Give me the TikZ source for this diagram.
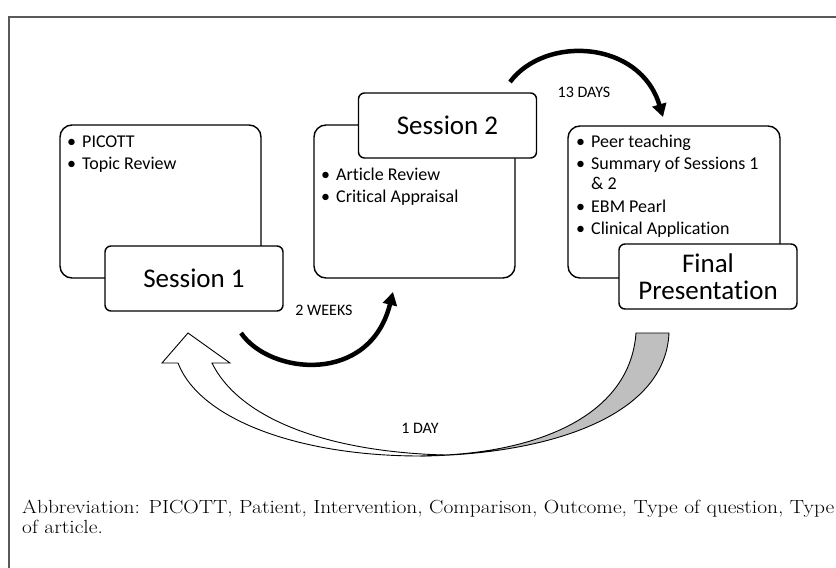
\documentclass[tikz,border=0pt]{standalone}
\usepackage{fontspec}
\setmainfont{Carlito}[Ligatures=NoCommon]
\newfontfamily\capfont{Latin Modern Roman}
\usetikzlibrary{arrows.meta}
\newcommand{\itm}[1]{\makebox[15pt][l]{\textbullet}#1}
\newcommand{\wide}[1]{\scalebox{1.128}[1]{#1}}

\begin{document}
\begin{tikzpicture}[
  x=1pt, y=-1pt,
  >={Triangle[length=13pt,width=14pt]},
  every node/.style={inner sep=0pt},
  content/.style={draw, line width=1.4pt, rounded corners=12pt},
  title/.style={draw, line width=1.4pt, rounded corners=6pt, fill=white, align=center,
    font=\fontsize{27}{27}\selectfont, minimum width=178pt, minimum height=65pt},
  item/.style={anchor=base west, font=\fontsize{18}{20}\selectfont},
  gap/.style={anchor=base, font=\fontsize{16}{18}\selectfont},
  timeline/.style={->, line width=4.5pt},
  ribbon/.style={draw, line width=0.9pt},
]
  \useasboundingbox (0,0) rectangle (836,568);

  % Frame
  \draw[line width=1.8pt, black!65] (9,568) -- (9,17) -- (836,17);

  % Content boxes
  \node[content, minimum width=201pt, minimum height=153pt] (c1) at (160.5,201.5) {};
  \node[content, minimum width=201pt, minimum height=153pt] (c2) at (414.5,201.5) {};
  \node[content, minimum width=212pt, minimum height=152pt] (c3) at (674,202) {};

  % Bullet items
  \node[item] (i11) at (67,147) {\itm{PICOTT}};
  \node[item] (i12) at (67,169) {\itm{Topic Review}};
  \node[item] (i21) at (321,180) {\itm{Article Review}};
  \node[item] (i22) at (321,202) {\itm{Critical Appraisal}};
  \node[item] (i31) at (576,147) {\itm{Peer teaching}};
  \node[item] (i32) at (576,169) {\itm{Summary of Sessions 1}};
  \node[item] (i33) at (591,189) {\& 2};
  \node[item] (i34) at (576,212) {\itm{EBM Pearl}};
  \node[item] (i35) at (576,234) {\itm{Clinical Application}};

  % Session titles
  \node[title] (s1) at (194,278.5) {Session 1};
  \node[title] (s2) at (447.5,125.5) {Session 2};
  \node[title] (fp) at (708,276.5) {Final\\Presentation};

  % Gaps between sessions
  \coordinate (w2a) at (241,333);
  \coordinate (w2b) at (393,292);
  \draw[timeline] (w2a) .. controls (270,375) and (370,385) .. (w2b);
  \node[gap] (w2) at (324,315) {2 WEEKS};

  \coordinate (d13a) at (510,82);
  \coordinate (d13b) at (663,117);
  \draw[timeline] (d13a) .. controls (545,35) and (640,40) .. (d13b);
  \node[gap] (d13) at (584,97) {13 DAYS};

  % Back to session 1
  \coordinate (d1a) at (636,333);
  \coordinate (d1b) at (669,333);
  \coordinate (d1c) at (188,333);
  \filldraw[ribbon, fill=gray!50] (d1a) -- (d1b) .. controls (665,420) and (540,455) .. (420,456)
    -- (445,455) .. controls (540,450) and (630,415) .. (d1a) -- cycle;
  \filldraw[ribbon, fill=white] (420,456) .. controls (300,456) and (200,420) .. (178,363)
    -- (162,363) -- (d1c) -- (230,363) -- (212,363) .. controls (240,420) and (330,452) .. (445,455) -- cycle;
  \node[gap] (d1) at (420,433) {1 DAY};

  % Caption
  \node[anchor=base west, align=left, font=\capfont\fontsize{19}{20}\selectfont] (cap) at (22,533)
    {\wide{Abbreviation: PICOTT, Patient, Intervention, Comparison, Outcome, Type of question, Type}\\\wide{of article.}};
\end{tikzpicture}
\end{document}
